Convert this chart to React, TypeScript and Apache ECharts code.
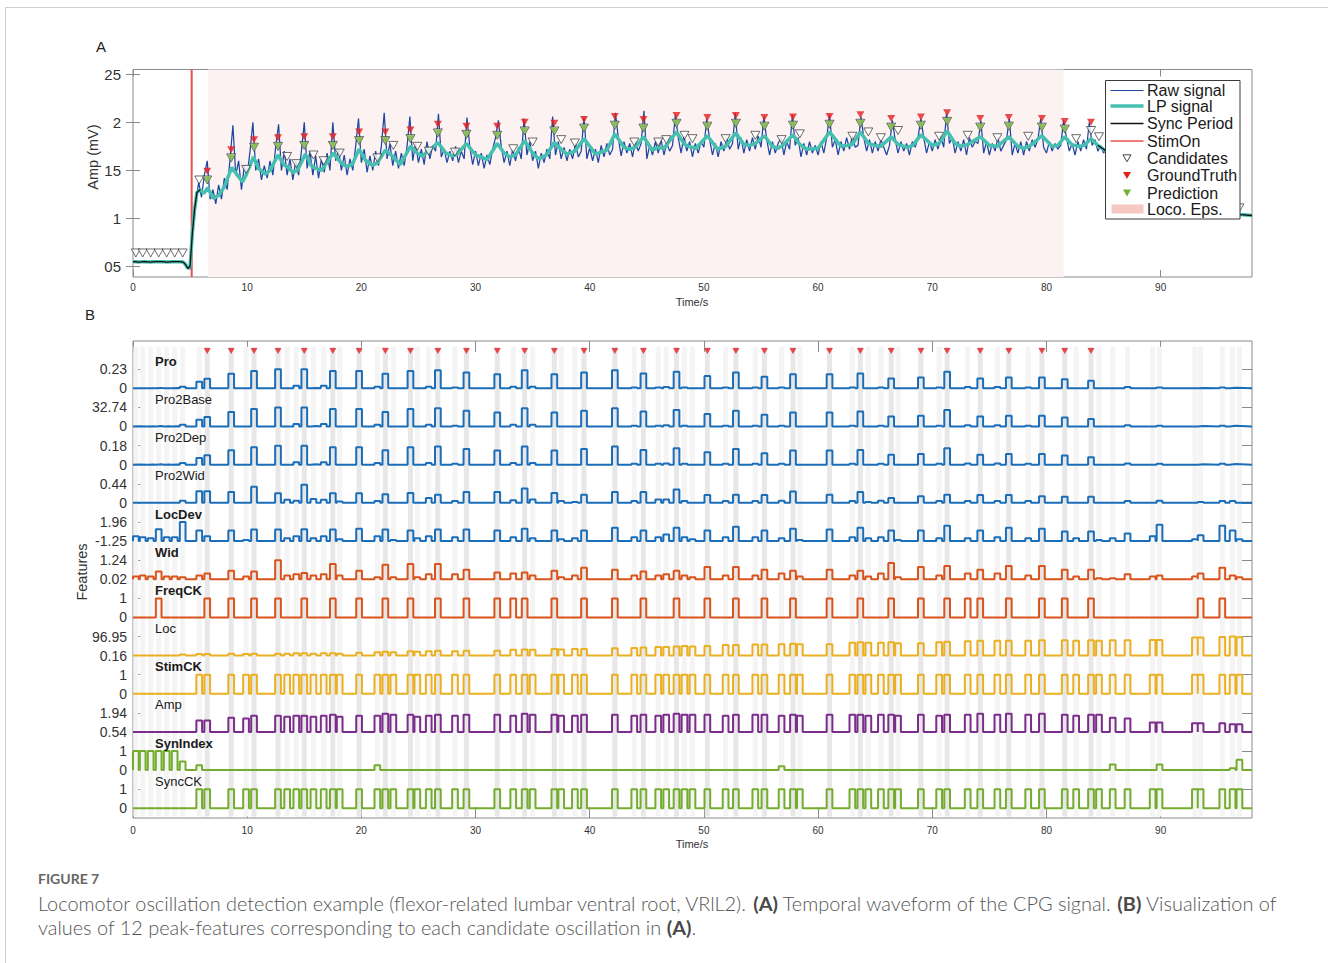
import React, { useEffect, useRef } from "react";
import * as echarts from "echarts";

// ---------- time base ----------
const T_MAX = 98;
const X_TICKS = [0, 10, 20, 30, 40, 50, 60, 70, 80, 90];

// ---------- panel A : CPG waveform ----------
const AMP_TICKS = [0.5, 1, 1.5, 2, 2.5];
const AMP_TICK_LABELS = ["05", "1", "15", "2", "25"];

const RAW_STEP = 0.25; // s between raw samples
const rawSignal = [
  0.55, 0.56, 0.545, 0.55, 0.555, 0.54, 0.55, 0.56, 0.55, 0.545, 0.55, 0.555, 0.55, 0.54, 0.55, 0.56, 0.55, 0.545, 0.53, 0.49,
  0.47, 0.9, 1.15, 1.38, 1.22, 1.45, 1.6, 1.2, 1.3, 1.15, 1.35, 1.2, 1.42, 1.3, 1.62, 1.97, 1.45, 1.6, 1.3, 1.55,
  1.45, 1.7, 2.0, 1.5, 1.62, 1.4, 1.55, 1.42, 1.6, 1.45, 1.75, 1.98, 1.5, 1.7, 1.45, 1.62, 1.4, 1.6, 1.45, 1.7,
  2.0, 1.52, 1.7, 1.45, 1.65, 1.42, 1.62, 1.48, 1.68, 1.5, 2.0, 1.6, 1.72, 1.5, 1.66, 1.45, 1.62, 1.5, 1.75, 2.04,
  1.58, 1.72, 1.48, 1.65, 1.5, 1.7, 1.55, 1.75, 2.1, 1.62, 1.78, 1.55, 1.7, 1.52, 1.68, 1.55, 1.75, 2.06, 1.6, 1.78,
  1.58, 1.72, 1.56, 1.8, 1.62, 1.76, 1.7, 2.09, 1.64, 1.72, 1.58, 1.7, 1.6, 1.75, 1.58, 1.7, 1.62, 2.05, 1.74, 1.56,
  1.7, 1.55, 1.68, 1.52, 1.66, 1.56, 1.72, 1.84, 2.02, 1.75, 1.58, 1.7, 1.55, 1.72, 1.6, 1.74, 1.62, 2.04, 1.66, 1.8,
  1.6, 1.7, 1.52, 1.68, 1.58, 1.72, 1.62, 2.06, 1.66, 1.8, 1.62, 1.74, 1.6, 1.72, 1.62, 1.78, 1.64, 1.7, 2.06, 1.62,
  1.74, 1.6, 1.72, 1.58, 1.76, 1.64, 1.78, 1.66, 1.72, 2.1, 1.84, 1.65, 1.8, 1.68, 1.78, 1.64, 1.8, 1.7, 1.78, 2.12,
  1.62, 1.76, 1.66, 1.8, 1.68, 1.82, 1.66, 1.78, 1.7, 1.76, 2.08, 1.84, 1.68, 1.86, 1.7, 1.8, 1.64, 1.78, 1.68, 1.8,
  1.74, 2.04, 1.82, 1.66, 1.78, 1.64, 1.8, 1.7, 1.84, 1.72, 1.78, 2.1, 1.72, 1.84, 1.68, 1.82, 1.7, 1.84, 1.72, 1.86,
  1.74, 2.06, 1.82, 1.66, 1.8, 1.68, 1.78, 1.84, 1.66, 1.8, 1.72, 2.08, 1.76, 1.84, 1.64, 1.78, 1.66, 1.8, 1.68, 1.76,
  1.66, 1.8, 1.68, 1.84, 2.08, 1.74, 1.82, 1.66, 1.8, 1.7, 1.84, 1.72, 1.86, 1.74, 1.76, 2.06, 1.84, 1.7, 1.82, 1.68,
  1.8, 1.7, 1.82, 1.74, 1.66, 1.76, 2.02, 1.82, 1.68, 1.8, 1.7, 1.78, 1.66, 1.8, 1.74, 1.84, 2.04, 1.84, 1.68, 1.8,
  1.7, 1.82, 1.72, 1.86, 1.74, 2.1, 1.78, 1.84, 1.68, 1.8, 1.7, 1.82, 1.66, 1.84, 1.74, 1.8, 1.78, 2.02, 1.68, 1.8,
  1.66, 1.78, 1.7, 1.84, 1.7, 1.76, 1.82, 2.04, 1.66, 1.78, 1.68, 1.8, 1.66, 1.8, 1.7, 1.82, 1.74, 1.82, 2.04, 1.74,
  1.68, 1.8, 1.7, 1.78, 1.72, 1.76, 2.02, 1.84, 1.7, 1.78, 1.66, 1.8, 1.7, 1.82, 1.72, 2.0, 1.76, 1.82, 1.7, 1.76,
  1.68, 1.72, 1.6, 1.66, 1.56, 1.62, 1.5, 1.56, 1.46, 1.52, 1.44, 1.46, 1.4, 1.44, 1.36, 1.4, 1.32, 1.36, 1.3, 1.34,
  1.28, 1.3, 1.24, 1.26, 1.22, 1.24, 1.19, 1.2, 1.17, 1.19, 1.15, 1.16, 1.14, 1.15, 1.12, 1.13, 1.1, 1.11, 1.09, 1.1,
  1.08, 1.09, 1.07, 1.07, 1.06, 1.07, 1.05, 1.05, 1.04, 1.05, 1.03, 1.03, 1.03,
];

// low-pass filtered trace, [time s, amplitude mV]
const lpSignal = [
  [0, 0.55], [0.5, 0.545], [1, 0.55], [1.5, 0.545], [2, 0.55], [2.5, 0.55], [3, 0.545], [3.5, 0.55], [4, 0.55],
  [4.4, 0.545], [4.6, 0.52], [4.8, 0.48], [5.0, 0.5], [5.2, 0.85], [5.4, 1.1], [5.6, 1.27], [5.9, 1.3], [6.2, 1.26],
  [6.55, 1.32], [7.0, 1.21], [7.5, 1.24], [8.0, 1.33], [8.65, 1.53], [9.2, 1.44], [9.6, 1.38], [9.9, 1.45],
  [10.55, 1.64], [11.0, 1.52], [11.6, 1.46], [12.0, 1.5], [12.7, 1.66], [13.2, 1.56], [13.6, 1.53], [14.0, 1.48],
  [14.4, 1.5], [15.1, 1.67], [15.6, 1.55], [16.0, 1.52], [16.5, 1.5], [16.8, 1.55], [17.55, 1.68], [18.2, 1.58],
  [18.7, 1.54], [19.2, 1.56], [19.8, 1.72], [20.4, 1.6], [21.0, 1.55], [21.4, 1.58], [22.1, 1.71], [22.8, 1.64],
  [23.4, 1.56], [24.3, 1.75], [24.9, 1.68], [25.3, 1.65], [25.9, 1.7], [26.7, 1.79], [27.4, 1.68], [28.0, 1.65],
  [28.4, 1.67], [29.2, 1.78], [30.0, 1.66], [30.5, 1.64], [31.0, 1.61], [31.9, 1.78], [32.5, 1.68], [33.0, 1.64],
  [33.5, 1.66], [34.3, 1.81], [35.0, 1.68], [35.5, 1.62], [36.2, 1.66], [36.9, 1.79], [37.5, 1.72], [38.0, 1.67],
  [38.7, 1.7], [39.5, 1.83], [40.5, 1.67], [41.5, 1.71], [42.2, 1.88], [43.0, 1.74], [43.5, 1.72], [44.0, 1.74],
  [44.7, 1.85], [45.5, 1.71], [46.0, 1.74], [46.5, 1.73], [47.6, 1.9], [48.3, 1.77], [48.7, 1.75], [49.3, 1.73],
  [50.3, 1.86], [51.2, 1.72], [51.9, 1.75], [52.8, 1.89], [53.5, 1.77], [54.0, 1.76], [54.5, 1.78], [55.3, 1.86],
  [56.0, 1.75], [56.5, 1.73], [56.9, 1.76], [57.8, 1.87], [58.4, 1.77], [59.0, 1.72], [60.0, 1.73], [61.0, 1.9],
  [62.0, 1.75], [62.6, 1.76], [63.0, 1.77], [63.7, 1.9], [64.4, 1.78], [65.0, 1.76], [65.5, 1.75], [66.4, 1.85],
  [67.0, 1.77], [67.8, 1.74], [68.3, 1.76], [69.0, 1.87], [70.0, 1.76], [70.6, 1.78], [71.3, 1.91], [72.0, 1.78],
  [72.5, 1.75], [73.1, 1.77], [74.2, 1.85], [75.0, 1.76], [75.7, 1.75], [76.7, 1.85], [77.5, 1.75], [78.0, 1.73],
  [78.5, 1.75], [79.6, 1.86], [80.5, 1.75], [81.0, 1.76], [81.6, 1.85], [82.2, 1.77], [82.8, 1.75], [83.3, 1.76],
  [83.9, 1.83], [84.5, 1.76], [85.0, 1.72], [85.5, 1.67], [86.0, 1.6], [86.5, 1.52], [87.1, 1.48], [88.0, 1.4],
  [89.0, 1.32], [89.9, 1.3], [91.0, 1.22], [92.0, 1.17], [93.0, 1.14], [94.0, 1.1], [95.0, 1.08], [96.0, 1.06],
  [97.0, 1.04], [98.0, 1.03],
];

const stimOnTime = 5.14;
const locoEpisode = [6.55, 81.5];
const syncWindows = [[0, 5.9], [84.5, 98]];

// ---------- candidate oscillations ----------
const candidateTimes = [
  0.25, 0.85, 1.55, 2.25, 2.95, 3.65, 4.35,
  5.8, 6.5, 8.6, 9.9, 10.6,
  12.7, 13.5, 14.3, 15.0, 15.8, 16.7, 17.5, 18.1,
  19.8, 21.4, 22.1, 22.8,
  24.3, 24.9, 25.9, 26.7, 28.2, 29.2,
  31.9, 33.3, 34.3, 35.0,
  36.9, 37.5, 38.7, 39.5,
  42.2, 43.9, 44.7,
  46.0, 46.7, 47.6, 48.3, 49.0,
  50.3, 51.9, 52.8, 54.5, 55.3,
  56.8, 57.8, 58.4,
  61.0, 63.0, 63.7, 64.4, 65.5, 66.4, 67.0,
  69.0, 70.6, 71.3,
  73.1, 74.2, 75.7, 76.7, 78.4, 79.6,
  81.6, 82.6, 83.9, 84.6,
  85.8, 87.1, 89.3, 89.9,
  93.0, 93.5, 95.4, 96.3, 96.9,
];
const candidateAmp = [
  0.64, 0.64, 0.64, 0.64, 0.64, 0.64, 0.64,
  1.40, 1.40, 1.63, 1.51, 1.74,
  1.75, 1.645, 1.57, 1.76, 1.66, 1.60, 1.76, 1.68,
  1.81, 1.63, 1.81, 1.76,
  1.83, 1.75, 1.70, 1.89, 1.69, 1.875,
  1.865, 1.725, 1.91, 1.795,
  1.91, 1.82, 1.785, 1.94,
  1.97, 1.795, 1.94,
  1.795, 1.82, 1.99, 1.865, 1.83,
  1.96, 1.83, 1.99, 1.865, 1.96,
  1.82, 1.97, 1.88,
  1.98, 1.855, 1.99, 1.90, 1.84, 1.95, 1.915,
  1.97, 1.855, 2.01,
  1.865, 1.95, 1.84, 1.96, 1.855, 1.95,
  1.93, 1.83, 1.915, 1.85,
  1.72, 1.58, 1.45, 1.42,
  1.25, 1.23, 1.17, 1.14, 1.11,
];

const groundTruthTimes = [
  6.5, 8.6, 10.6, 12.7, 15.0, 17.5, 19.8, 22.1, 24.3, 26.7, 29.2, 31.9, 34.3, 36.9, 39.5, 42.2,
  44.7, 47.6, 50.3, 52.8, 55.3, 57.8, 61.0, 63.7, 66.4, 69.0, 71.3, 74.2, 76.7, 79.6, 81.6, 83.9,
];
const groundTruthAmp = [
  1.49, 1.715, 1.82, 1.84, 1.85, 1.85, 1.90, 1.90, 1.92, 1.98, 1.96, 1.96, 2.0, 1.99, 2.03, 2.06,
  2.03, 2.07, 2.05, 2.07, 2.05, 2.055, 2.06, 2.08, 2.04, 2.055, 2.10, 2.04, 2.05, 2.04, 2.01, 2.0,
];
const predictionTimes = [
  6.5, 8.6, 10.6, 12.7, 15.0, 17.5, 19.8, 22.1, 24.3, 26.7, 29.2, 31.9, 34.3, 36.9, 39.5, 42.2,
  44.7, 47.6, 50.3, 52.8, 55.3, 57.8, 61.0, 63.7, 66.4, 69.0, 71.3, 74.2, 76.7, 79.6, 81.6,
];
const predictionAmp = [
  1.40, 1.63, 1.74, 1.75, 1.76, 1.76, 1.81, 1.81, 1.83, 1.89, 1.875, 1.865, 1.91, 1.91, 1.94, 1.97,
  1.94, 1.99, 1.96, 1.99, 1.96, 1.97, 1.98, 1.99, 1.95, 1.97, 2.01, 1.95, 1.96, 1.95, 1.93,
];

// ---------- panel B : peak-features, one value per candidate ----------
const proValues = [
  0.002, 0, 0.002, 0.005, 0.002, 0.003, 0.02,
  0.08, 0.115, 0.175, 0, 0.21,
  0.23, 0, 0.03, 0.23, 0.005, 0.03, 0.21, 0,
  0.21, 0.02, 0.175, 0,
  0.21, 0, 0.02, 0.22, 0.01, 0.19,
  0.17, 0.02, 0.22, 0.02,
  0.17, 0, 0, 0.19,
  0.22, 0.01, 0.18,
  0.01, 0.015, 0.2, 0.01, 0,
  0.15, 0.01, 0.19, 0.01, 0.14,
  0.01, 0.17, 0,
  0.17, 0.01, 0.18, 0, 0.01, 0.12, 0,
  0.13, 0.01, 0.2,
  0.015, 0.12, 0.015, 0.13, 0.01, 0.13,
  0.11, 0, 0.09, 0,
  0, 0.015, 0, 0.01,
  0, 0.005, 0.01, 0.008, 0,
];
const pro2BaseValues = [
  0.3, 0, 0.3, 0.8, 0.3, 0.4, 3.0,
  11.5, 16.5, 25.0, 0, 30.0,
  32.7, 0, 4.3, 32.5, 0.7, 4.3, 30.0, 0,
  30.0, 2.8, 25.0, 0,
  30.0, 0, 2.8, 31.3, 1.4, 27.0,
  24.2, 2.8, 31.3, 2.8,
  24.2, 0, 0, 27.0,
  31.3, 1.4, 25.6,
  1.4, 2.1, 28.5, 1.4, 0,
  21.3, 1.4, 27.0, 1.4, 20.0,
  1.4, 24.2, 0,
  24.2, 1.4, 25.6, 0, 1.4, 17.0, 0,
  18.5, 1.4, 28.5,
  2.1, 17.0, 2.1, 18.5, 1.4, 18.5,
  15.6, 0, 12.8, 0,
  0, 2.1, 0, 1.4,
  0, 0.7, 1.4, 1.1, 0,
];
const pro2DepValues = [
  0.002, 0, 0.002, 0.004, 0.002, 0.002, 0.016,
  0.063, 0.09, 0.137, 0, 0.164,
  0.18, 0, 0.023, 0.178, 0.004, 0.023, 0.164, 0,
  0.164, 0.016, 0.137, 0,
  0.164, 0, 0.016, 0.172, 0.008, 0.148,
  0.133, 0.016, 0.172, 0.016,
  0.133, 0, 0, 0.148,
  0.172, 0.008, 0.14,
  0.008, 0.012, 0.156, 0.008, 0,
  0.117, 0.008, 0.148, 0.008, 0.109,
  0.008, 0.133, 0,
  0.133, 0.008, 0.14, 0, 0.008, 0.094, 0,
  0.101, 0.008, 0.156,
  0.012, 0.094, 0.012, 0.101, 0.008, 0.101,
  0.086, 0, 0.07, 0,
  0, 0.012, 0, 0.008,
  0, 0.004, 0.008, 0.006, 0,
];
const pro2WidValues = [
  0.002, 0, 0.002, 0.004, 0.002, 0.004, 0.05,
  0.27, 0.27, 0.25, 0, 0.37,
  0.22, 0.07, 0.05, 0.42, 0.09, 0.07, 0.22, 0.03,
  0.22, 0.04, 0.2, 0,
  0.23, 0, 0.11, 0.19, 0.04, 0.25,
  0.25, 0.06, 0.33, 0.08,
  0.23, 0.04, 0.02, 0.19,
  0.25, 0.04, 0.25,
  0.08, 0.08, 0.31, 0.04, 0,
  0.18, 0.04, 0.19, 0.04, 0.18,
  0.05, 0.26, 0,
  0.19, 0.04, 0.25, 0.02, 0.05, 0.11, 0,
  0.15, 0.04, 0.19,
  0.04, 0.18, 0.04, 0.18, 0.04, 0.15,
  0.14, 0, 0.14, 0,
  0, 0.04, 0, 0.05,
  0, 0.02, 0.04, 0.04, 0,
];
const locDevValues = [
  -0.45, -0.61, -0.77, 0.74, -0.61, -0.61, 1.96,
  0.52, -0.45, 0.52, -1.09, 0.68,
  0.68, -0.77, -0.45, 0.74, -0.77, -0.45, 0.68, -0.93,
  0.84, -0.45, 0.68, -1.09,
  0.52, -0.77, -0.45, 0.68, -0.61, 0.68,
  0.52, -0.61, 0.84, -0.77,
  0.52, -0.93, -0.77, 0.52,
  1.0, -0.61, 0.52,
  -0.61, -0.13, 1.0, -0.61, -0.93,
  0.52, -0.61, 1.16, -0.61, 0.52,
  -0.77, 0.84, -1.09,
  0.68, -0.61, 1.0, -0.77, -0.61, 0.52, -1.09,
  0.52, -0.77, 1.32,
  -0.77, 0.52, -0.61, 1.0, -0.77, 0.84,
  0.36, -0.77, 0.36, -1.09,
  -0.77, 0.03, -0.45, 1.48,
  -0.93, -0.29, 1.32, 0.52, -0.93,
];
const widValues = [
  0.2, 0.26, 0.2, 0.51, 0.2, 0.2, 0.14,
  0.26, 0.39, 0.57, 0.2, 0.51,
  1.24, 0.26, 0.33, 0.42, 0.26, 0.33, 1.0, 0.26,
  0.57, 0.14, 0.94, 0.14,
  1.0, 0.14, 0.33, 1.0, 0.33, 0.63,
  0.45, 0.39, 0.45, 0.26,
  0.57, 0.14, 0.26, 0.75,
  0.63, 0.26, 0.51,
  0.26, 0.33, 0.57, 0.26, 0.14,
  0.81, 0.26, 0.81, 0.26, 0.63,
  0.39, 0.57, 0.2,
  0.63, 0.26, 0.57, 0.2, 0.39, 1.06, 0.14,
  0.81, 0.26, 0.87,
  0.39, 0.63, 0.39, 0.87, 0.26, 0.87,
  0.63, 0.2, 0.63, 0.08,
  0.08, 0.33, 0.2, 0.26,
  0.2, 0.39, 0.75, 0.26, 0.14,
];
const freqCKValues = [
  0, 0, 0, 1, 0, 0, 0,
  0, 1, 1, 0, 1,
  1, 0, 0, 1, 0, 0, 1, 0,
  1, 0, 1, 0,
  1, 0, 0, 1, 0, 1,
  1, 1, 1, 0,
  1, 0, 0, 1,
  1, 0, 1,
  0, 0, 1, 0, 0,
  1, 0, 1, 0, 1,
  0, 1, 0,
  1, 0, 1, 0, 0, 1, 0,
  1, 0, 1,
  1, 1, 0, 1, 0, 1,
  1, 0, 1, 0,
  0, 0, 0, 0,
  0, 1, 1, 0, 0,
];
const locValues = [
  0.16, 0.16, 0.16, 0.16, 0.16, 0.16, 5.0,
  7.9, 7.9, 9.8, 7.9, 9.8,
  9.8, 9.8, 11.8, 11.8, 9.8, 11.8, 11.8, 9.8,
  14.7, 17.6, 19.5, 17.6,
  21.5, 19.5, 21.5, 24.4, 21.5, 24.4,
  24.4, 29.2, 31.1, 29.2,
  34.0, 31.1, 34.0, 34.0,
  36.9, 38.9, 40.8,
  43.7, 43.7, 46.6, 48.6, 46.6,
  48.6, 53.4, 53.4, 56.3, 56.3,
  58.2, 60.2, 58.2,
  58.2, 66.0, 67.9, 66.0, 66.0, 67.9, 63.1,
  63.1, 67.9, 69.9,
  72.8, 75.7, 75.7, 75.7, 75.7, 77.6,
  77.6, 75.7, 77.6, 75.7,
  77.6, 77.6, 79.5, 79.5,
  92.1, 92.1, 95.0, 96.95, 94.0,
];
const stimCKValues = [
  0, 0, 0, 0, 0, 0, 0,
  1, 1, 1, 1, 1,
  1, 1, 1, 1, 1, 1, 1, 1,
  1, 1, 1, 1,
  1, 1, 1, 1, 1, 1,
  1, 1, 1, 1,
  1, 1, 1, 1,
  1, 1, 1,
  1, 1, 1, 1, 1,
  1, 1, 1, 1, 1,
  1, 1, 1,
  1, 1, 1, 1, 1, 1, 1,
  1, 1, 1,
  1, 1, 1, 1, 1, 1,
  1, 1, 1, 1,
  1, 1, 1, 1,
  1, 1, 1, 1, 1,
];
const ampValues = [
  0.54, 0.54, 0.54, 0.54, 0.54, 0.54, 0.54,
  1.38, 1.38, 1.59, 1.52, 1.73,
  1.73, 1.66, 1.73, 1.73, 1.66, 1.73, 1.8, 1.66,
  1.73, 1.73, 1.87, 1.8,
  1.8, 1.66, 1.73, 1.8, 1.73, 1.8,
  1.8, 1.73, 1.87, 1.8,
  1.8, 1.73, 1.73, 1.8,
  1.8, 1.73, 1.8,
  1.73, 1.8, 1.87, 1.8, 1.8,
  1.8, 1.73, 1.8, 1.8, 1.8,
  1.73, 1.8, 1.73,
  1.8, 1.8, 1.8, 1.73, 1.8, 1.8, 1.73,
  1.8, 1.73, 1.8,
  1.8, 1.87, 1.8, 1.87, 1.8, 1.87,
  1.8, 1.73, 1.8, 1.8,
  1.59, 1.52, 1.24, 1.24,
  1.17, 1.17, 1.17, 1.1, 1.1,
];
const synIndexValues = [
  1, 1, 1, 1, 1, 1, 0.45,
  0.25, 0, 0, 0, 0,
  0, 0, 0, 0, 0, 0, 0, 0,
  0, 0.25, 0, 0,
  0, 0, 0, 0, 0, 0,
  0, 0, 0, 0,
  0, 0, 0, 0,
  0, 0, 0,
  0, 0, 0, 0, 0,
  0, 0, 0, 0, 0,
  0.2, 0, 0,
  0, 0, 0, 0, 0, 0, 0,
  0, 0, 0,
  0, 0, 0, 0, 0, 0,
  0, 0, 0, 0,
  0.3, 0, 0, 0.3,
  0, 0, 0, 0.1, 0.55,
];
const syncCKValues = [
  0, 0, 0, 0, 0, 0, 0,
  1, 1, 1, 1, 1,
  1, 1, 1, 1, 1, 1, 1, 1,
  1, 1, 1, 1,
  1, 1, 1, 1, 1, 1,
  1, 1, 1, 1,
  1, 1, 1, 1,
  1, 1, 1,
  1, 1, 1, 1, 1,
  1, 1, 1, 1, 1,
  1, 1, 1,
  1, 1, 1, 1, 1, 1, 1,
  1, 1, 1,
  1, 1, 1, 1, 1, 1,
  1, 1, 1, 1,
  1, 1, 1, 1,
  1, 1, 1, 1, 1,
];

// ---------- styling ----------
const FONT = '"Liberation Sans", Arial, Helvetica, sans-serif';
const CAPTION_FONT = 'Lato, "Open Sans", sans-serif';
const AXIS_COLOR = "#8a8a8a";
const LABEL_COLOR = "#333333";
const COLORS = {
  blue: "#1a6db8",
  orange: "#d9531a",
  yellow: "#ebb021",
  purple: "#7b2d8c",
  green: "#74ad2e",
  raw: "#1f47a2",
  lp: "#45c0b0",
  stim: "#e8504e",
  gt: "#e61e1e",
  pred: "#70b234",
  loco: "#fcf2f2",
  locoKey: "#f6c8c2",
};

const featureRows = [
  { name: "Pro", bold: true, color: COLORS.blue, lo: 0, hi: 0.23, values: proValues },
  { name: "Pro2Base", bold: false, color: COLORS.blue, lo: 0, hi: 32.74, values: pro2BaseValues },
  { name: "Pro2Dep", bold: false, color: COLORS.blue, lo: 0, hi: 0.18, values: pro2DepValues },
  { name: "Pro2Wid", bold: false, color: COLORS.blue, lo: 0, hi: 0.44, values: pro2WidValues },
  { name: "LocDev", bold: true, color: COLORS.blue, lo: -1.25, hi: 1.96, values: locDevValues },
  { name: "Wid", bold: true, color: COLORS.orange, lo: 0.02, hi: 1.24, values: widValues },
  { name: "FreqCK", bold: true, color: COLORS.orange, lo: 0, hi: 1, values: freqCKValues },
  { name: "Loc", bold: false, color: COLORS.yellow, lo: 0.16, hi: 96.95, values: locValues },
  { name: "StimCK", bold: true, color: COLORS.yellow, lo: 0, hi: 1, values: stimCKValues },
  { name: "Amp", bold: false, color: COLORS.purple, lo: 0.54, hi: 1.94, values: ampValues },
  { name: "SynIndex", bold: true, color: COLORS.green, lo: 0, hi: 1, values: synIndexValues },
  { name: "SyncCK", bold: false, color: COLORS.green, lo: 0, hi: 1, values: syncCKValues },
];

// ---------- layout ----------
const PLOT_LEFT = 133;
const PLOT_WIDTH = 1119;
const A_TOP = 69.5;
const A_HEIGHT = 207.5;
const AMP_MIN = 0.39;
const AMP_MAX = 2.55;
const B_TOP = 341;
const B_HEIGHT = 477;
const TRACK_TOP = 369.3;
const TRACK_STEP = 38.18;
const TRACK_HEIGHT = 19;
const PULSE_HALF = 0.25;
const STRIPE_HALF = 0.22;
const GT_MARK_Y = 0.979;
const OVERLAY_Z = 150;

function pulseTrain(values, lo) {
  const pts = [[0, lo]];
  candidateTimes.forEach((t, i) => {
    const v = values[i];
    if (v > lo) {
      pts.push([t - PULSE_HALF, lo], [t - PULSE_HALF, v], [t + PULSE_HALF, v], [t + PULSE_HALF, lo]);
    }
  });
  pts.push([T_MAX, lo]);
  return pts;
}

function tickAxis(extra) {
  return {
    type: "value",
    axisLine: { show: false },
    splitLine: { show: false },
    ...extra,
  };
}

function buildOption() {
  const grid = [];
  const xAxis = [];
  const yAxis = [];
  const series = [];

  // ---- panel A ----
  grid.push({ left: PLOT_LEFT, top: A_TOP, width: PLOT_WIDTH, height: A_HEIGHT, show: true, borderColor: AXIS_COLOR, borderWidth: 1, backgroundColor: "transparent", z: 0 });
  xAxis.push(tickAxis({
    gridIndex: 0, min: 0, max: T_MAX, position: "bottom",
    axisTick: { inside: true, length: 7, customValues: X_TICKS, lineStyle: { color: AXIS_COLOR } },
    axisLabel: { customValues: X_TICKS, fontSize: 10, color: LABEL_COLOR, margin: 5, fontFamily: FONT },
  }));
  xAxis.push(tickAxis({
    gridIndex: 0, min: 0, max: T_MAX, position: "top",
    axisTick: { inside: true, length: 7, customValues: X_TICKS, lineStyle: { color: AXIS_COLOR } },
    axisLabel: { show: false },
  }));
  yAxis.push(tickAxis({
    gridIndex: 0, min: AMP_MIN, max: AMP_MAX, position: "left",
    axisTick: { inside: true, length: 7, customValues: AMP_TICKS, lineStyle: { color: AXIS_COLOR } },
    axisLabel: {
      customValues: AMP_TICKS, fontSize: 15, color: LABEL_COLOR, margin: 12, fontFamily: FONT,
      formatter: (v) => {
        const i = AMP_TICKS.indexOf(Number(v));
        return i >= 0 ? AMP_TICK_LABELS[i] : "";
      },
    },
  }));
  yAxis.push(tickAxis({
    gridIndex: 0, min: AMP_MIN, max: AMP_MAX, position: "right",
    axisTick: { inside: true, length: 7, customValues: AMP_TICKS, lineStyle: { color: AXIS_COLOR } },
    axisLabel: { show: false },
  }));

  series.push({
    type: "custom", xAxisIndex: 0, yAxisIndex: 0, silent: true, z: 1,
    data: [[locoEpisode[0], locoEpisode[1], AMP_MIN, AMP_MAX]],
    encode: { x: [0, 1], y: [2, 3] },
    renderItem: (params, api) => {
      const a = api.coord([api.value(0), api.value(3)]);
      const b = api.coord([api.value(1), api.value(2)]);
      return { type: "rect", shape: { x: a[0], y: a[1], width: b[0] - a[0], height: b[1] - a[1] }, style: { fill: COLORS.loco } };
    },
  });
  series.push({
    type: "line", xAxisIndex: 0, yAxisIndex: 0, silent: true, symbol: "none", z: 2,
    data: [[stimOnTime, AMP_MIN], [stimOnTime, AMP_MAX]],
    lineStyle: { color: COLORS.stim, width: 2 },
  });
  series.push({
    name: "Raw signal", type: "line", xAxisIndex: 0, yAxisIndex: 0, symbol: "none", silent: true, z: 3,
    data: rawSignal.map((v, i) => [i * RAW_STEP, v]),
    lineStyle: { color: COLORS.raw, width: 1.25 },
  });
  series.push({
    name: "LP signal", type: "line", xAxisIndex: 0, yAxisIndex: 0, symbol: "none", silent: true, z: 4,
    data: lpSignal,
    lineStyle: { color: COLORS.lp, width: 3.5 },
  });
  syncWindows.forEach(([a, b]) => {
    series.push({
      name: "Sync Period", type: "line", xAxisIndex: 0, yAxisIndex: 0, symbol: "none", silent: true, z: 5,
      data: lpSignal.filter(([t]) => t >= a && t <= b),
      lineStyle: { color: "#111111", width: 1.3 },
    });
  });
  series.push({
    name: "Candidates", type: "scatter", xAxisIndex: 0, yAxisIndex: 0, silent: true, z: 6,
    symbol: "triangle", symbolRotate: 180, symbolSize: [9, 8],
    data: candidateTimes.map((t, i) => [t, candidateAmp[i]]),
    itemStyle: { color: "#ffffff", borderColor: "#333333", borderWidth: 0.9 },
  });
  series.push({
    name: "GroundTruth", type: "scatter", xAxisIndex: 0, yAxisIndex: 0, silent: true, z: 7,
    symbol: "triangle", symbolRotate: 180, symbolSize: [8, 7],
    data: groundTruthTimes.map((t, i) => [t, groundTruthAmp[i]]),
    itemStyle: { color: COLORS.gt },
  });
  series.push({
    name: "Prediction", type: "scatter", xAxisIndex: 0, yAxisIndex: 0, silent: true, z: 8,
    symbol: "triangle", symbolRotate: 180, symbolSize: [8, 7],
    data: predictionTimes.map((t, i) => [t, predictionAmp[i]]),
    itemStyle: { color: COLORS.pred },
  });

  // ---- panel B frame ----
  grid.push({ left: PLOT_LEFT, top: B_TOP, width: PLOT_WIDTH, height: B_HEIGHT, show: true, borderColor: AXIS_COLOR, borderWidth: 1, backgroundColor: "transparent", z: 0 });
  xAxis.push(tickAxis({
    gridIndex: 1, min: 0, max: T_MAX, position: "bottom",
    axisTick: { inside: true, length: 11, customValues: X_TICKS, lineStyle: { color: AXIS_COLOR } },
    axisLabel: { customValues: X_TICKS, fontSize: 10, color: LABEL_COLOR, margin: 7, fontFamily: FONT },
  }));
  xAxis.push(tickAxis({
    gridIndex: 1, min: 0, max: T_MAX, position: "top",
    axisTick: { inside: true, length: 11, customValues: X_TICKS, lineStyle: { color: AXIS_COLOR } },
    axisLabel: { show: false },
  }));
  yAxis.push({ gridIndex: 1, type: "value", min: 0, max: 1, show: false });

  const gtSet = new Set(groundTruthTimes);
  series.push({
    type: "custom", xAxisIndex: 2, yAxisIndex: 2, silent: true, z: 1,
    data: candidateTimes.map((t) => [t - STRIPE_HALF, t + STRIPE_HALF, gtSet.has(t) ? 1 : 0]),
    encode: { x: [0, 1] },
    renderItem: (params, api) => {
      const a = api.coord([api.value(0), 0.988]);
      const b = api.coord([api.value(1), 0.003]);
      return {
        type: "rect",
        shape: { x: a[0], y: a[1], width: b[0] - a[0], height: b[1] - a[1] },
        style: { fill: api.value(2) ? "#e7e7e7" : "#f4f4f4" },
      };
    },
  });
  series.push({
    type: "scatter", xAxisIndex: 2, yAxisIndex: 2, silent: true, z: 6,
    symbol: "triangle", symbolRotate: 180, symbolSize: [7, 6],
    data: groundTruthTimes.map((t) => [t, GT_MARK_Y]),
    itemStyle: { color: COLORS.gt },
  });

  // ---- panel B feature tracks ----
  featureRows.forEach((row, k) => {
    const gi = 2 + k;
    grid.push({ left: PLOT_LEFT, top: TRACK_TOP + k * TRACK_STEP, width: PLOT_WIDTH, height: TRACK_HEIGHT });
    xAxis.push({ gridIndex: gi, type: "value", min: 0, max: T_MAX, show: false });
    const ticks = [row.lo, row.hi];
    yAxis.push(tickAxis({
      gridIndex: gi, min: row.lo, max: row.hi, position: "left",
      axisTick: { inside: true, length: 10, customValues: ticks, lineStyle: { color: AXIS_COLOR } },
      axisLabel: { customValues: ticks, fontSize: 14, color: LABEL_COLOR, margin: 6, fontFamily: FONT, formatter: (v) => String(v) },
    }));
    yAxis.push(tickAxis({
      gridIndex: gi, min: row.lo, max: row.hi, position: "right",
      axisTick: { inside: true, length: 10, customValues: ticks, lineStyle: { color: AXIS_COLOR } },
      axisLabel: { show: false },
    }));
    series.push({
      name: row.name, type: "line", xAxisIndex: 4 + k, yAxisIndex: 3 + 2 * k,
      symbol: "none", silent: true, clip: false, z: 5,
      data: pulseTrain(row.values, row.lo),
      lineStyle: { color: row.color, width: 2 },
    });
  });

  // ---- text, legend, caption ----
  const txt = (x, y, text, extra = {}, elExtra = {}) => ({
    type: "text", x, y, silent: true, z: OVERLAY_Z, ...elExtra,
    style: { text, fontFamily: FONT, fontSize: 14, fill: LABEL_COLOR, align: "left", verticalAlign: "middle", ...extra },
  });

  const graphic = [];
  graphic.push({ type: "line", silent: true, z: OVERLAY_Z, shape: { x1: 5, y1: 7.5, x2: 1328, y2: 7.5 }, style: { stroke: "#cfcfcf", lineWidth: 1 } });
  graphic.push({ type: "line", silent: true, z: OVERLAY_Z, shape: { x1: 5.5, y1: 7, x2: 5.5, y2: 963 }, style: { stroke: "#cfcfcf", lineWidth: 1 } });

  graphic.push(txt(101, 46, "A", { fontSize: 15, align: "center", fill: "#222" }));
  graphic.push(txt(90, 314, "B", { fontSize: 15, align: "center", fill: "#222" }));
  graphic.push(txt(93, 157, "Amp (mV)", { fontSize: 14.5, align: "center" }, { rotation: Math.PI / 2 }));
  graphic.push(txt(82, 572, "Features", { fontSize: 14.5, align: "center" }, { rotation: Math.PI / 2 }));
  graphic.push(txt(692, 301.5, "Time/s", { fontSize: 11, align: "center" }));
  graphic.push(txt(692, 844, "Time/s", { fontSize: 11, align: "center" }));

  featureRows.forEach((row, k) => {
    graphic.push(txt(155, TRACK_TOP + k * TRACK_STEP - 8, row.name, { fontSize: 13, fontWeight: row.bold ? "bold" : "normal", fill: "#1a1a1a" }));
  });

  // legend box, drawn above the traces
  const LX = 1105.5, LY = 80.5, LW = 134.5, LH = 138.5;
  const keyX1 = 1110.5, keyX2 = 1143.5, keyMid = 1127, textX = 1147;
  const rows = [90.5, 106, 123.5, 141, 158.3, 175.5, 193, 209.5];
  const LZ = OVERLAY_Z + 10;
  graphic.push({ type: "rect", silent: true, z: LZ, shape: { x: LX, y: LY, width: LW, height: LH }, style: { fill: "#ffffff", stroke: "#3a3a3a", lineWidth: 1 } });
  const keyLine = (y, color, width) => ({ type: "line", silent: true, z: LZ + 1, shape: { x1: keyX1, y1: y, x2: keyX2, y2: y }, style: { stroke: color, lineWidth: width } });
  const keyTri = (y, fill, stroke) => ({
    type: "polygon", silent: true, z: LZ + 1,
    shape: { points: [[keyMid - 4, y - 3.5], [keyMid + 4, y - 3.5], [keyMid, y + 3.5]] },
    style: { fill, stroke: stroke || null, lineWidth: stroke ? 0.9 : 0 },
  });
  graphic.push(keyLine(rows[0], COLORS.raw, 1));
  graphic.push(keyLine(rows[1], COLORS.lp, 3.5));
  graphic.push(keyLine(rows[2], "#111111", 1.5));
  graphic.push(keyLine(rows[3], COLORS.stim, 1.5));
  graphic.push(keyTri(rows[4], "#ffffff", "#333333"));
  graphic.push(keyTri(rows[5], COLORS.gt));
  graphic.push(keyTri(rows[6], COLORS.pred));
  graphic.push({ type: "rect", silent: true, z: LZ + 1, shape: { x: 1111.5, y: rows[7] - 5, width: 32, height: 9 }, style: { fill: COLORS.locoKey } });
  ["Raw signal", "LP signal", "Sync Period", "StimOn", "Candidates", "GroundTruth", "Prediction", "Loco. Eps."].forEach((label, i) => {
    graphic.push({ type: "text", silent: true, z: LZ + 1, x: textX, y: rows[i], style: { text: label, fontFamily: FONT, fontSize: 16, fill: "#1a1a1a", align: "left", verticalAlign: "middle" } });
  });

  // caption
  const capRich = { b: { fontFamily: CAPTION_FONT, fontSize: 19.9, fontWeight: "bold", fill: "#4a4a4a" } };
  graphic.push(txt(38, 878, "FIGURE 7", { fontFamily: CAPTION_FONT, fontSize: 14, fontWeight: "bold", fill: "#666666" }));
  graphic.push(txt(38, 903,
    "Locomotor oscillation detection example (flexor-related lumbar ventral root, VRlL2). {b|(A)} Temporal waveform of the CPG signal. {b|(B)} Visualization of",
    { fontFamily: CAPTION_FONT, fontSize: 19.9, fontWeight: 300, fill: "#555555", rich: capRich }));
  graphic.push(txt(38, 927,
    "values of 12 peak-features corresponding to each candidate oscillation in {b|(A)}.",
    { fontFamily: CAPTION_FONT, fontSize: 19.9, fontWeight: 300, fill: "#555555", rich: capRich }));

  return {
    animation: false,
    backgroundColor: "#ffffff",
    textStyle: { fontFamily: FONT },
    grid,
    xAxis,
    yAxis,
    series,
    graphic,
  };
}

export default function App() {
  const ref = useRef(null);
  useEffect(() => {
    if (!ref.current) return;
    const chart = echarts.init(ref.current, null, { renderer: "svg" });
    chart.setOption(buildOption());
    return () => chart.dispose();
  }, []);
  return (
    <div
      ref={ref}
      style={{ position: "fixed", left: 0, top: 0, width: 1328, height: 963, background: "#ffffff" }}
    />
  );
}
